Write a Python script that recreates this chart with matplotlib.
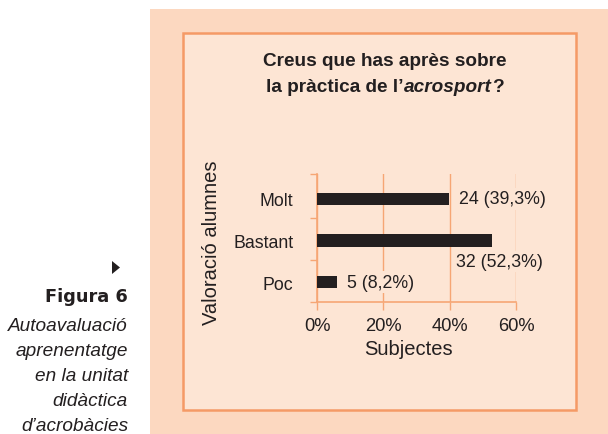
import matplotlib
matplotlib.use("Agg")
import matplotlib.pyplot as plt
from matplotlib.patches import Rectangle, Polygon

# ---- data ----
categories = ["Poc", "Bastant", "Molt"]
bar_values = [6.0, 52.9, 39.7]          # bar lengths as drawn (% of subjects)
value_labels = ["5 (8,2%)", "32 (52,3%)", "24 (39,3%)"]
xticks = [0, 20, 40, 60]
xtick_labels = ["0%", "20%", "40%", "60%"]
title_line1 = "Creus que has après sobre"
title_line2 = ["la pràctica de l’", "acrosport", "?"]
caption_head = "Figura 6"
caption_lines = ["Autoavaluació", "aprenentatge", "en la unitat", "didàctica", "d’acrobàcies"]

W, H = 608, 435
OUTER = "#fcd8c0"
INNER = "#fde5d4"
BORDER = "#f59a66"
GRID = "#f6a674"
DARK = "#231f20"
FONT = "Liberation Sans"

fig = plt.figure(figsize=(W / 100, H / 100), dpi=100)
fig.patch.set_facecolor("white")

def fx(px):
    return px / W

def fy(py):
    return 1 - py / H

# background panels
fig.patches.append(Rectangle((fx(150), 0), 1 - fx(150), fy(10), transform=fig.transFigure,
                             facecolor=OUTER, edgecolor="none", zorder=-2))
fig.patches.append(Rectangle((fx(183), fy(411)), fx(576) - fx(183), fy(34) - fy(411),
                             transform=fig.transFigure, facecolor=INNER, edgecolor=BORDER,
                             linewidth=1.8, zorder=-1))

# axes
ax = fig.add_axes([fx(317), fy(303), fx(516) - fx(317), fy(175) - fy(303)])
ax.set_zorder(2)
ax.set_facecolor("none")
ypos = list(range(len(categories)))
ax.barh(ypos, bar_values, height=0.3, color=DARK, zorder=3)
ax.set_xlim(0, 60)
ax.set_ylim(-0.48, 2.6)
ax.set_xticks(xticks)
ax.set_xticklabels(xtick_labels, fontsize=13.2, color=DARK, fontfamily=FONT)
ax.set_yticks(ypos)
ax.set_yticklabels(categories, fontsize=12.8, color=DARK, fontfamily=FONT)
ax.tick_params(axis="y", which="major", length=0, pad=17)
ax.set_yticks([-0.48, 0.52, 1.54, 2.6], minor=True)
ax.tick_params(axis="y", which="minor", length=5, color=GRID, width=1)
ax.tick_params(axis="x", length=6, color=GRID, width=1, pad=5)
for s in ["top", "right"]:
    ax.spines[s].set_visible(False)
for s in ["left", "bottom"]:
    ax.spines[s].set_color(GRID)
    ax.spines[s].set_linewidth(1.2)
ax.grid(axis="x", color=GRID, linewidth=1.0, zorder=0)
ax.set_axisbelow(True)

# value labels
for i, (v, lab) in enumerate(zip(bar_values, value_labels)):
    if categories[i] == "Bastant":
        x, y = 42.0, i - 0.5
    else:
        x, y = v + 3.0, i
    ax.text(x, y, lab, ha="left", va="center", fontsize=12.8, color=DARK, fontfamily=FONT,
            zorder=4, bbox=dict(facecolor=INNER, edgecolor="none", pad=1.5))

ax.set_xlabel("Subjectes", fontsize=14.5, color=DARK, fontfamily=FONT)
ax.xaxis.set_label_coords((408 - 317) / (516 - 317), -(350 - 303) / (303 - 175))
ax.xaxis.label.set_va("center")
ax.set_ylabel("Valoració alumnes", fontsize=14.5, color=DARK, fontfamily=FONT)
ax.yaxis.set_label_coords(-(317 - 211) / (516 - 317), (303 - 243) / (303 - 175))
ax.yaxis.label.set_va("center")

# title
TS = 13.7
fig.text(fx(385), fy(62), title_line1, ha="center", va="center", fontsize=TS,
         fontweight="bold", color=DARK, fontfamily=FONT)
fig.canvas.draw()
r = fig.canvas.get_renderer()
styles = ["normal", "italic", "normal"]
pieces = []
for t, st in zip(title_line2, styles):
    pieces.append(fig.text(0, fy(88), t, ha="left", va="center", fontsize=TS,
                           fontweight="bold", fontstyle=st, color=DARK, fontfamily=FONT))
widths = [p.get_window_extent(r).width for p in pieces]
x0 = 385 - sum(widths) / 2
for p, w in zip(pieces, widths):
    p.set_x(fx(x0))
    x0 += w

# caption
fig.patches.append(Polygon([[fx(112), fy(262)], [fx(112), fy(275)], [fx(120), fy(268.5)]],
                           closed=True, transform=fig.transFigure, facecolor=DARK,
                           edgecolor="none"))
fig.text(fx(128), fy(297), caption_head, ha="right", va="center", fontsize=12.8,
         fontweight="heavy", color=DARK, fontfamily="DejaVu Sans")
for k, line in enumerate(caption_lines):
    fig.text(fx(128), fy(327 + 25 * k), line, ha="right", va="center", fontsize=13.7,
             fontstyle="italic", color=DARK, fontfamily=FONT)

fig.savefig("out.png", dpi=100, facecolor=fig.get_facecolor())
